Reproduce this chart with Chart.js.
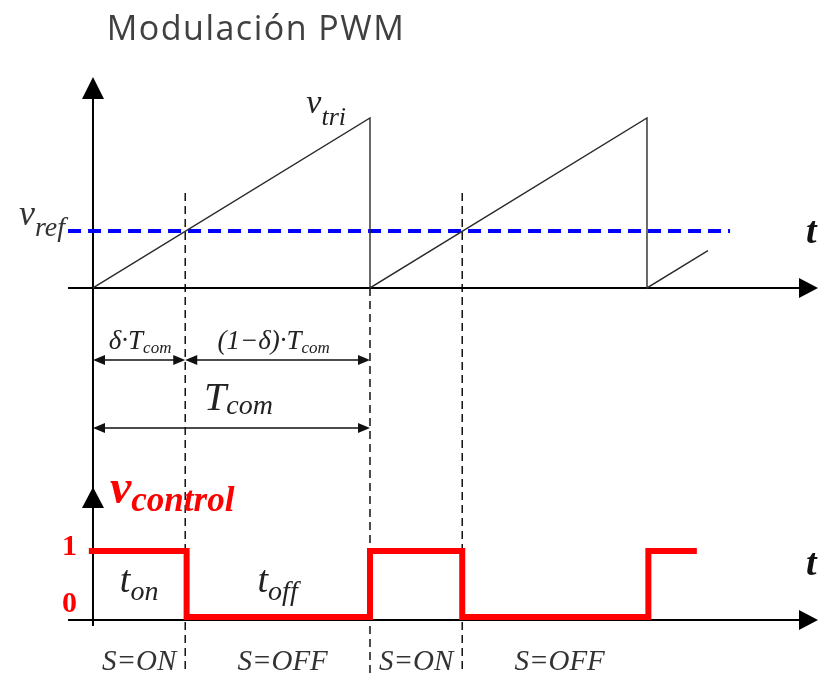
<!DOCTYPE html>
<html><head><meta charset="utf-8">
<script src="https://cdn.jsdelivr.net/npm/chart.js@4"></script>
<style>html,body{margin:0;padding:0;background:#fff}#wrap{width:819px;height:673px;position:relative}</style>
</head><body><div id="wrap"><canvas id="c"></canvas></div>
<script>
// ---- data (time in units of T_com) ----
const TITLE = 'Modulación PWM';
const DUTY = 0.333;                         // δ
const VREF = 0.335;                         // reference level (per unit of v_tri peak)
const TRI_T = [0, 1, 1, 2, 2, 2.22];        // sawtooth carrier
const TRI_V = [0, 1, 0, 1, 0, 0.22];
const CTRL_T = [-0.015, 0.338, 0.338, 1, 1, 1.333, 1.333, 2.005, 2.005, 2.18];
const CTRL_V = [1, 1, 0, 0, 1, 1, 0, 0, 1, 1];
const VREF_T = [-0.09, 2.30];
const SWITCH_T = [0.333, 1, 1.333];
const STATE_BOUNDS = [0, 0.333, 1, 1.333, 2];
const STATE_LABELS = ['S=ON', 'S=OFF', 'S=ON', 'S=OFF'];
const CTRL_TICKS = [1, 0];

const pts = (xs, ys) => xs.map((x, i) => ({x, y: ys[i]}));

const SERIF = '"Liberation Serif","DejaVu Serif",serif';

function drawSub(ctx, x, y, main, sub, mf, sf, dy, color, align) {
  ctx.font = mf; const w1 = ctx.measureText(main).width;
  ctx.font = sf; const w2 = ctx.measureText(sub).width;
  let left = align === 'center' ? x - (w1 + w2) / 2 : align === 'right' ? x - w1 - w2 : x;
  ctx.fillStyle = color; ctx.textAlign = 'left'; ctx.textBaseline = 'alphabetic';
  ctx.font = mf; ctx.fillText(main, left, y);
  ctx.font = sf; ctx.fillText(sub, left + w1, y + dy);
}
function tri(ctx, p) {
  ctx.beginPath(); ctx.moveTo(p[0], p[1]); ctx.lineTo(p[2], p[3]); ctx.lineTo(p[4], p[5]); ctx.closePath(); ctx.fill();
}
function dimArrow(ctx, x1, x2, y) {
  ctx.strokeStyle = '#111'; ctx.fillStyle = '#111'; ctx.lineWidth = 1.6;
  ctx.beginPath(); ctx.moveTo(x1 + 3, y); ctx.lineTo(x2 - 3, y); ctx.stroke();
  tri(ctx, [x1, y, x1 + 12, y - 5, x1 + 12, y + 5]);
  tri(ctx, [x2, y, x2 - 12, y - 5, x2 - 12, y + 5]);
}

const diagram = {
  id: 'diagram',
  beforeDatasetsDraw(chart) {
    const {ctx, scales: {x, yTop, yCtl}} = chart;
    const W = chart.width, H = chart.height;
    const x0 = x.getPixelForValue(0);
    const yA = yTop.getPixelForValue(0);
    const yB = yCtl.getPixelForValue(0) + 3;
    ctx.save();
    ctx.strokeStyle = '#111'; ctx.lineWidth = 1.5; ctx.setLineDash([8, 5]);
    SWITCH_T.forEach(t => {
      const px = x.getPixelForValue(t);
      const top = Math.abs(t - 1) < 1e-6 ? yA : yTop.getPixelForValue(VREF) - 38;
      ctx.beginPath(); ctx.moveTo(px, top); ctx.lineTo(px, H); ctx.stroke();
    });
    ctx.setLineDash([]);
    ctx.strokeStyle = '#000'; ctx.fillStyle = '#000'; ctx.lineWidth = 2;
    const xStart = x.getPixelForValue(-0.09);
    ctx.beginPath(); ctx.moveTo(xStart, yA); ctx.lineTo(W - 14, yA); ctx.stroke();
    ctx.beginPath(); ctx.moveTo(xStart, yB); ctx.lineTo(W - 14, yB); ctx.stroke();
    ctx.beginPath(); ctx.moveTo(x0, 90); ctx.lineTo(x0, yB + 6); ctx.stroke();
    ctx.restore();
  },
  afterDatasetsDraw(chart) {
    const {ctx, scales: {x, yTop, yCtl}} = chart;
    const W = chart.width;
    const x0 = x.getPixelForValue(0), xd = x.getPixelForValue(DUTY), x1 = x.getPixelForValue(1);
    const yA = yTop.getPixelForValue(0);
    const yB = yCtl.getPixelForValue(0) + 3;
    const yR = yTop.getPixelForValue(VREF);
    ctx.save();
    ctx.fillStyle = '#000';
    tri(ctx, [W - 1, yA, W - 20, yA - 10, W - 20, yA + 10]);
    tri(ctx, [W - 1, yB, W - 20, yB - 10, W - 20, yB + 10]);
    tri(ctx, [x0, 77, x0 - 11, 99, x0 + 11, 99]);
    const yCtlArrow = yCtl.getPixelForValue(1) - 64;
    tri(ctx, [x0, yCtlArrow, x0 - 11, yCtlArrow + 21, x0 + 11, yCtlArrow + 21]);
    // title
    ctx.fillStyle = '#404040'; ctx.font = '34px "Open Sans", sans-serif';
    ctx.letterSpacing = '1.5px';
    ctx.textAlign = 'center'; ctx.textBaseline = 'alphabetic';
    ctx.fillText(TITLE, 256, 40);
    ctx.letterSpacing = '0px';
    // time labels
    ctx.fillStyle = '#111'; ctx.font = 'italic bold 38px ' + SERIF; ctx.textAlign = 'left';
    ctx.fillText('t', W - 13, yA - 45);
    ctx.fillText('t', W - 13, yB - 45);
    // carrier & reference labels
    drawSub(ctx, x1 - 24, yTop.getPixelForValue(1) - 5, 'v', 'tri', 'italic 34px ' + SERIF, 'italic 26px ' + SERIF, 12, '#222', 'right');
    drawSub(ctx, x0 - 28, yR - 6, 'v', 'ref', 'italic 36px ' + SERIF, 'italic 28px ' + SERIF, 11, '#333', 'right');
    // dimension arrows
    dimArrow(ctx, x0, xd, yA + 72);
    dimArrow(ctx, xd, x1, yA + 72);
    dimArrow(ctx, x0, x1, yA + 140);
    drawSub(ctx, x.getPixelForValue(DUTY / 2) + 1, yA + 61, 'δ·T', 'com', 'italic 27px ' + SERIF, 'italic 17px ' + SERIF, 4, '#222', 'center');
    drawSub(ctx, x.getPixelForValue((DUTY + 1) / 2) - 4, yA + 61, '(1−δ)·T', 'com', 'italic 27px ' + SERIF, 'italic 17px ' + SERIF, 4, '#222', 'center');
    drawSub(ctx, x.getPixelForValue(0.5) + 7, yA + 122, 'T', 'com', 'italic 40px ' + SERIF, 'italic 28px ' + SERIF, 4, '#222', 'center');
    // control labels
    drawSub(ctx, x0 + 17, yCtl.getPixelForValue(1) - 48, 'v', 'control', 'italic bold 48px ' + SERIF, 'italic bold 35px ' + SERIF, 8, '#ff0000', 'left');
    ctx.fillStyle = '#ff0000'; ctx.font = 'bold 30px ' + SERIF; ctx.textAlign = 'right';
    CTRL_TICKS.forEach(v => {
      ctx.fillText(String(v), x0 - 16, yCtl.getPixelForValue(v) + (v === 1 ? 4 : -5));
    });
    const yOn = yCtl.getPixelForValue(0) - 25;
    drawSub(ctx, x.getPixelForValue(DUTY / 2), yOn, 't', 'on', 'italic 38px ' + SERIF, 'italic 28px ' + SERIF, 8, '#222', 'center');
    drawSub(ctx, x.getPixelForValue((DUTY + 1) / 2), yOn, 't', 'off', 'italic 38px ' + SERIF, 'italic 28px ' + SERIF, 8, '#222', 'center');
    // switch states
    ctx.fillStyle = '#333'; ctx.font = 'italic 29px ' + SERIF; ctx.textAlign = 'center';
    STATE_LABELS.forEach((s, i) => {
      const c = x.getPixelForValue((STATE_BOUNDS[i] + STATE_BOUNDS[i + 1]) / 2);
      ctx.fillText(s, c + (i % 2 ? 5 : 0), yB + 50);
    });
    ctx.restore();
  }
};

new Chart(document.getElementById('c'), {
  type: 'scatter',
  data: {
    datasets: [
      {label: 'v_tri', data: pts(TRI_T, TRI_V), yAxisID: 'yTop', showLine: true, borderColor: '#2a2a2a', borderWidth: 1.4, pointRadius: 0, tension: 0},
      {label: 'v_ref', data: pts(VREF_T, [VREF, VREF]), yAxisID: 'yTop', showLine: true, borderColor: '#0000ff', borderWidth: 4, borderDash: [13, 7], pointRadius: 0},
      {label: 'v_control', data: pts(CTRL_T, CTRL_V), yAxisID: 'yCtl', showLine: true, borderColor: '#ff0000', borderWidth: 6, borderJoinStyle: 'miter', pointRadius: 0, tension: 0}
    ]
  },
  options: {
    responsive: true, maintainAspectRatio: false, animation: false,
    layout: {padding: 0},
    plugins: {legend: {display: false}, tooltip: {enabled: false}},
    scales: {
      x: {type: 'linear', display: false, min: -0.3357, max: 2.621},
      yTop: {type: 'linear', display: false, min: -2.265, max: 1.694},
      yCtl: {type: 'linear', display: false, min: -0.849, max: 9.348}
    }
  },
  plugins: [diagram]
});
</script>
</body></html>
